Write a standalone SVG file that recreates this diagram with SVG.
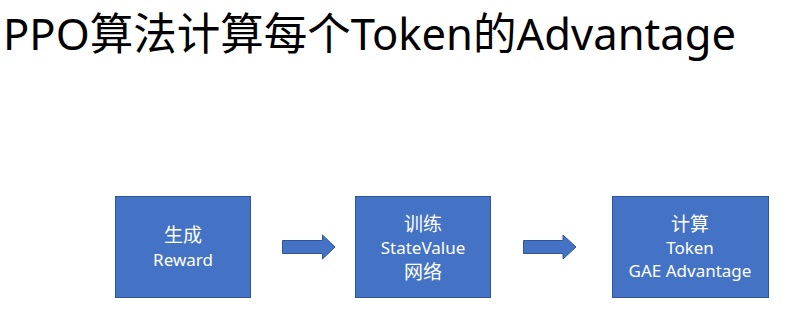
<svg xmlns="http://www.w3.org/2000/svg" width="803" height="317" viewBox="0 0 803 317">
<style>
.box{fill:#4472C4;stroke:#2F5597;stroke-width:1}
.arr{fill:#4472C4;stroke:#2F5597;stroke-width:1}
.t{font-family:"Noto Sans","Noto Sans CJK SC",sans-serif;font-size:17px;fill:#ffffff;text-anchor:middle}
.c{font-size:19px}
.title{font-family:"Noto Sans","Noto Sans CJK SC",sans-serif;font-size:44px;fill:#000000}
</style>
<rect width="803" height="317" fill="#ffffff"/>
<text class="title" x="3" y="50" textLength="733" lengthAdjust="spacingAndGlyphs">PPO算法计算每个Token的Advantage</text>
<g id="n1">
<rect class="box" x="115.5" y="196.5" width="135" height="101"/>
<text class="t c" x="183" y="242">生成</text>
<text class="t" x="183" y="266">Reward</text>
</g>
<g id="n2">
<rect class="box" x="355.5" y="196.5" width="135" height="101"/>
<text class="t c" x="423" y="231">训练</text>
<text class="t" x="423" y="254">StateValue</text>
<text class="t c" x="423" y="279">网络</text>
</g>
<g id="n3">
<rect class="box" x="612.5" y="196.5" width="156" height="101"/>
<text class="t c" x="690" y="231">计算</text>
<text class="t" x="690" y="254">Token</text>
<text class="t" x="690" y="277">GAE Advantage</text>
</g>
<g id="connectors">
<polygon class="arr" points="282.5,240.5 322.5,240.5 322.5,235 335,247 322.5,259 322.5,253.5 282.5,253.5"/>
<polygon class="arr" points="523.5,240.5 563,240.5 563,235 576,247 563,259 563,253.5 523.5,253.5"/>
</g>
</svg>
